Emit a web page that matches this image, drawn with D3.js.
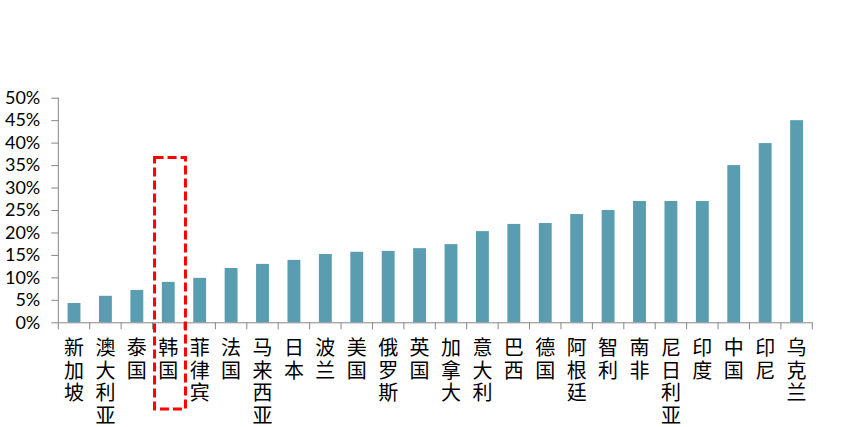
<!DOCTYPE html>
<html><head><meta charset="utf-8">
<script src="https://cdn.jsdelivr.net/npm/d3@7"></script>
<style>body{margin:0;background:#fff}svg{display:block}</style>
</head><body>
<svg id="c" width="866" height="427"></svg>
<script>
const categories = ["新加坡","澳大利亚","泰国","韩国","菲律宾","法国","马来西亚","日本","波兰","美国","俄罗斯","英国","加拿大","意大利","巴西","德国","阿根廷","智利","南非","尼日利亚","印度","中国","印尼","乌克兰"];
const values = [0.043,0.059,0.072,0.090,0.099,0.121,0.130,0.139,0.152,0.157,0.159,0.165,0.174,0.203,0.219,0.221,0.241,0.250,0.270,0.270,0.270,0.350,0.399,0.450];
const yTicks = [0,0.05,0.10,0.15,0.20,0.25,0.30,0.35,0.40,0.45,0.50];
const highlight = "韩国";
const highlightTop = 0.367;

(function(){
const svg = d3.select("#c");
const L = 58.3, R = 812.3, T = 97.7, B = 322.3;
const x = d3.scaleBand().domain(categories).range([L, R]).paddingInner(0.59).paddingOuter(0.295);
const y = d3.scaleLinear().domain([0, 0.5]).range([B, T]);
const axisColor = "#868686";

svg.append("g").selectAll("rect").data(categories).join("rect")
  .attr("x", d => x(d)).attr("width", x.bandwidth())
  .attr("y", (d,i) => y(values[i])).attr("height", (d,i) => y(0) - y(values[i]))
  .attr("fill", "#5A9DB1");

const ya = svg.append("g").attr("transform", `translate(${L},0)`)
  .call(d3.axisLeft(y).tickValues(yTicks).tickSize(7).tickPadding(11).tickFormat(d3.format(".0%")));
ya.select(".domain").attr("stroke", axisColor).attr("d", `M0,${T}V${B}`);
ya.selectAll(".tick line").attr("stroke", axisColor);
ya.selectAll(".tick text").attr("fill", "#000").style("font-family", "Lato, 'Liberation Sans', sans-serif").style("font-size", "18px");

const step = x.step();
const xa = svg.append("g");
xa.append("line").attr("x1", L).attr("x2", R).attr("y1", B + 0.5).attr("y2", B + 0.5).attr("stroke", axisColor);
const bounds = d3.range(categories.length + 1).map(i => L + i * step);
xa.selectAll("line.t").data(bounds).join("line").attr("class", "t")
  .attr("x1", d => d).attr("x2", d => d).attr("y1", B).attr("y2", B + 7).attr("stroke", axisColor);

const lab = svg.append("g").selectAll("text").data(categories).join("text")
  .attr("text-anchor", "middle")
  .style("font-family", "'Noto Sans CJK SC', sans-serif").style("font-size", "20px").attr("fill", "#000");
lab.each(function(d){
  const cx = x(d) + x.bandwidth()/2;
  const t = d3.select(this);
  [...d].forEach((ch, i) => {
    t.append("tspan").attr("x", cx).attr("y", 355 + i * 22.5).text(ch);
  });
});

const hx = x(highlight) + x.bandwidth()/2 - step/2 + 2;
svg.append("rect")
  .attr("x", hx).attr("y", y(highlightTop))
  .attr("width", step - 0.5).attr("height", 409 - y(highlightTop))
  .attr("fill", "none").attr("stroke", "#FF0000").attr("stroke-width", 3)
  .attr("stroke-dasharray", "9,4");
})();
</script>
</body></html>
